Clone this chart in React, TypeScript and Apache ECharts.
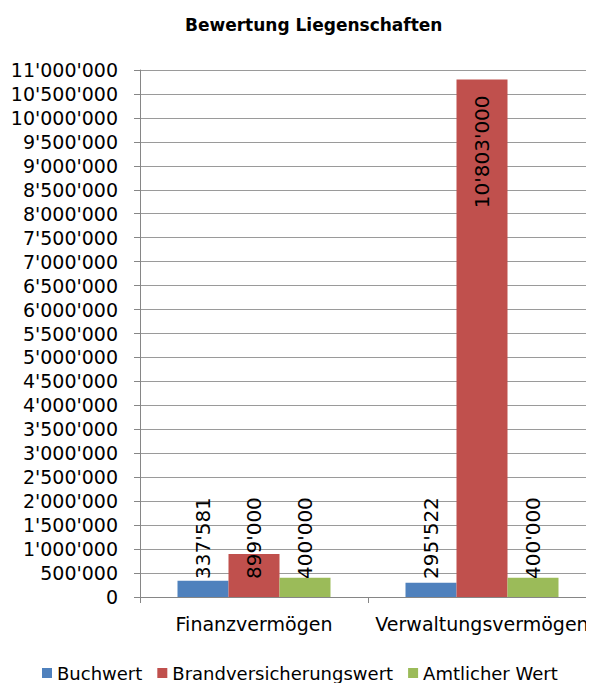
import React, { useEffect, useRef } from "react";
import * as echarts from "echarts";

const categories = ["Finanzvermögen", "Verwaltungsvermögen"];
const seriesNames = ["Buchwert", "Brandversicherungswert", "Amtlicher Wert"];
const buchwert = [337581, 295522];
const brandversicherungswert = [899000, 10803000];
const amtlicherWert = [400000, 400000];
const colors = ["#4F81BD", "#C0504D", "#9BBB59"];
const yMax = 11000000;
const yInterval = 500000;

const FONT = "'DejaVu Sans', sans-serif";

const fmt = (v: number) => String(v).replace(/\B(?=(\d{3})+(?!\d))/g, "'");

function makeData(values: number[]) {
  return values.map((v) => {
    const big = v > yMax * 0.5;
    return {
      value: v,
      label: big
        ? { position: "insideTop", distance: 16, align: "right", verticalAlign: "middle" }
        : { position: "insideBottom", distance: 18, align: "left", verticalAlign: "middle" },
    };
  });
}

export default function App() {
  const ref = useRef<HTMLDivElement>(null);
  useEffect(() => {
    if (!ref.current) return;
    const chart = echarts.init(ref.current, null, { renderer: "svg" });
    const all = [buchwert, brandversicherungswert, amtlicherWert];
    chart.setOption({
      animation: false,
      backgroundColor: "#ffffff",
      title: {
        text: "Bewertung Liegenschaften",
        left: 180,
        top: 11,
        textStyle: { fontFamily: FONT, fontSize: 17, fontWeight: "bold", color: "#000" },
      },
      legend: {
        data: seriesNames,
        left: 37,
        top: 659,
        icon: "rect",
        itemWidth: 10,
        itemHeight: 10,
        itemGap: 15,
        textStyle: { fontFamily: FONT, fontSize: 18, color: "#000" },
      },
      grid: { left: 140, right: -2, top: 70, bottom: 94, containLabel: false, outerBoundsMode: "none" },
      xAxis: {
        type: "category",
        data: categories,
        axisLine: { lineStyle: { color: "#868686", width: 1 } },
        axisTick: { show: true, length: 6, lineStyle: { color: "#868686" } },
        axisLabel: { fontFamily: FONT, fontSize: 19, color: "#000", margin: 17, interval: 0, hideOverlap: false },
      },
      yAxis: {
        type: "value",
        min: 0,
        max: yMax,
        interval: yInterval,
        axisLine: { show: true, lineStyle: { color: "#868686", width: 1 } },
        axisTick: { show: true, length: 6, lineStyle: { color: "#868686" } },
        splitLine: { show: true, lineStyle: { color: "#9a9a9a", width: 1 } },
        axisLabel: {
          fontFamily: FONT,
          fontSize: 19,
          color: "#000",
          margin: 22,
          formatter: (v: number) => fmt(v),
        },
      },
      series: all.map((vals, i) => ({
        name: seriesNames[i],
        type: "bar",
        data: makeData(vals),
        barWidth: 51,
        barGap: "0%",
        itemStyle: { color: colors[i] },
        label: {
          show: true,
          rotate: 90,
          fontFamily: FONT,
          fontSize: 20,
          color: "#000",
          formatter: (p: any) => fmt(p.value),
        },
      })),
    });
    return () => chart.dispose();
  }, []);
  return <div ref={ref} style={{ width: 594, height: 691, margin: -8 }} />;
}
